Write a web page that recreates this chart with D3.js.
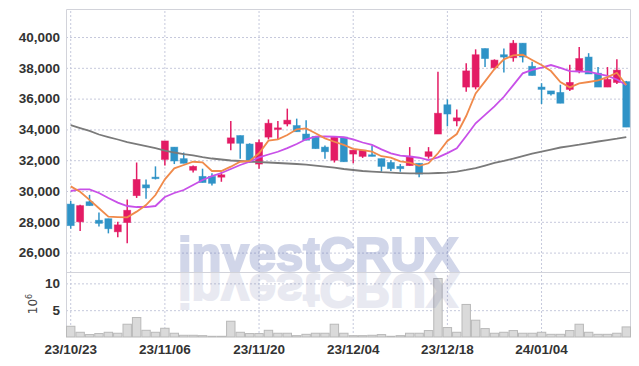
<!DOCTYPE html>
<html>
<head>
<meta charset="utf-8">
<script src="https://cdn.jsdelivr.net/npm/d3@7"></script>
<style>
  body { margin: 0; background: #fff; }
  svg { display: block; }
  .lbl text { font-family: "Liberation Sans", Arial, sans-serif; font-weight: bold; font-size: 13.5px; fill: #333; }
  .grid line { stroke: #c6c9dc; stroke-dasharray: 2,2; }
</style>
</head>
<body>
<svg width="639" height="366"></svg>
<script>
// trading days, yy/mm/dd
const dates = [
  "23/10/23","23/10/24","23/10/25","23/10/26","23/10/27","23/10/30","23/10/31",
  "23/11/01","23/11/02","23/11/03","23/11/06","23/11/07","23/11/08","23/11/09","23/11/10",
  "23/11/13","23/11/14","23/11/15","23/11/16","23/11/17","23/11/20","23/11/21","23/11/22",
  "23/11/23","23/11/24","23/11/27","23/11/28","23/11/29","23/11/30","23/12/01",
  "23/12/04","23/12/05","23/12/06","23/12/07","23/12/08","23/12/11","23/12/12","23/12/13",
  "23/12/14","23/12/15","23/12/18","23/12/19","23/12/20","23/12/21","23/12/22",
  "23/12/26","23/12/27","23/12/28","24/01/02","24/01/03","24/01/04","24/01/05",
  "24/01/08","24/01/09","24/01/10","24/01/11","24/01/12","24/01/15","24/01/16","24/01/17"
];
const dateTicks = ["23/10/23", "23/11/06", "23/11/20", "23/12/04", "23/12/18", "24/01/04"];
const priceTicks = [26000, 28000, 30000, 32000, 34000, 36000, 38000, 40000];
const volTicks = [5, 10];

const opens = [29150, 28000, 29300, 28100, 28200, 27350, 27950, 29700, 30400, 30900,
  32050, 32850, 32100, 31350, 30950, 30950, 30900, 33100, 33600, 33050,
  31750, 33500, 34000, 34350, 34250, 33700, 33550, 32850, 32000, 33500,
  32400, 32250, 32350, 32100, 31850, 31600, 31650, 31800, 32250, 33700,
  35600, 34550, 36750, 36750, 39250, 38000, 38850, 38650, 39600, 38100,
  36750, 36500, 36400, 36600, 37800, 38700, 37650, 36750, 37050, 37100];
const highs = [29350, 29100, 29750, 28600, 28200, 28000, 29450, 31850, 30750, 31600,
  33250, 32850, 32500, 31650, 31450, 31150, 31250, 34550, 33600, 33100,
  33350, 34650, 34550, 35350, 34700, 34600, 33550, 32950, 33500, 33500,
  32650, 32650, 32950, 32100, 32000, 31750, 32850, 31800, 32850, 37750,
  35950, 35300, 38300, 39200, 39250, 38550, 39250, 39800, 39600, 38400,
  37000, 36500, 36900, 38200, 39350, 38950, 38050, 38050, 38550, 37150];
const lows = [27550, 27400, 29050, 27700, 27250, 27000, 26600, 29550, 29500, 30750,
  31650, 31750, 31800, 31200, 30550, 30350, 30600, 32650, 32100, 31850,
  31450, 33350, 33350, 34200, 33850, 33300, 32750, 32100, 31850, 31900,
  31800, 32150, 32250, 31250, 31300, 31250, 31650, 30900, 32100, 33700,
  34200, 34200, 36450, 36600, 38050, 37850, 37700, 38400, 38350, 37500,
  35650, 36200, 35700, 36500, 37650, 37600, 36750, 36750, 36950, 34150];
const closes = [27750, 29050, 29050, 27900, 27550, 27800, 28750, 30750, 30200, 30800,
  33250, 31950, 31800, 31600, 30550, 30500, 31050, 33450, 33100, 31900,
  33150, 34400, 34100, 34600, 33850, 33300, 32750, 32550, 33500, 31900,
  32650, 32650, 32250, 31600, 31450, 31450, 32250, 31100, 32550, 35050,
  35000, 34750, 37800, 38850, 38600, 38500, 38700, 39600, 38700, 37500,
  36600, 36300, 35700, 37050, 38600, 37600, 36750, 37250, 37850, 34150];
// volume, millions of shares
const volumes = [2.0, 0.88, 0.45, 0.64, 0.88, 0.7, 2.38, 3.63, 1.25, 0.88,
  1.63, 0.7, 0.32, 0.32, 0.25, 0.13, 0.13, 2.94, 0.88, 0.64,
  0.64, 1.25, 0.7, 0.7, 0.25, 0.5, 0.7, 0.7, 2.38, 0.7,
  0.25, 0.25, 0.32, 0.45, 0.13, 0.25, 0.7, 0.7, 1.2, 10.9,
  1.76, 0.88, 6.07, 3.13, 1.57, 0.7, 0.88, 1.2, 0.7, 0.7,
  0.88, 0.5, 0.5, 1.2, 2.38, 0.88, 0.5, 0.5, 0.7, 1.88];
// moving averages
const maShort = [30300, 29950, 29420, 28880, 28330, 28310, 28290, 28660, 29090, 29740,
  30760, 31470, 31690, 31900, 31860, 31300, 31300, 31580, 31900, 31950,
  32450, 33270, 33360, 33640, 34010, 34070, 33750, 33420, 33200, 32990,
  32740, 32660, 32560, 32260, 32170, 31920, 31840, 31640, 31800, 32450,
  33250, 33700, 34870, 36340, 37120, 37920, 38550, 38810, 38850, 38510,
  38180, 37790, 37080, 36730, 36990, 37080, 37180, 37400, 37680, 36880];
const maMid = [30000, 30100, 30100, 29870, 29545, 29250, 29025, 28960, 28960, 29025,
  29610, 29870, 30065, 30390, 30715, 30970, 31170, 31430, 31690, 31900,
  32180, 32370, 32550, 32790, 33050, 33360, 33530, 33540, 33530, 33490,
  33350, 33150, 32990, 32700, 32450, 32300, 32240, 32160, 32010, 32180,
  32460, 32770, 33570, 34400, 34940, 35490, 36120, 36880, 37640, 37860,
  38010, 38180, 37990, 37790, 37760, 37750, 37600, 37470, 37240, 36880];
const maLong = [34285, 34090, 33900, 33670, 33505, 33345, 33180, 33050, 32920, 32790,
  32630, 32500, 32400, 32315, 32205, 32110, 32045, 31980, 31950, 31900,
  31880, 31850, 31820, 31785, 31755, 31710, 31655, 31590, 31515, 31430,
  31365, 31300, 31265, 31220, 31190, 31160, 31140, 31140, 31150, 31170,
  31200, 31265, 31365, 31490, 31655, 31820, 31950, 32110, 32270, 32435,
  32565, 32695, 32825, 32920, 33005, 33115, 33215, 33310, 33395, 33505];

const L = 66, R = 631, T = 9, M = 272, B = 337;

const svg = d3.select("svg");

const x = d3.scaleBand().domain(dates).range([L, R]);
const y = d3.scaleLinear().domain([24740, 41820]).range([M, T]);
const v = d3.scaleLinear().domain([0, 12.12]).range([B, M]);
const cx = (d) => x(d) + x.bandwidth() / 2;

// grid
svg.append("g").attr("class", "grid")
  .attr("transform", `translate(${L},0)`)
  .call(d3.axisLeft(y).tickValues(priceTicks).tickSize(-(R - L)).tickFormat(""))
  .call((g) => g.select(".domain").remove());
svg.append("g").attr("class", "grid")
  .attr("transform", `translate(${L},0)`)
  .call(d3.axisLeft(v).tickValues(volTicks).tickSize(-(R - L)).tickFormat(""))
  .call((g) => g.select(".domain").remove());
svg.append("g").attr("class", "grid")
  .attr("transform", `translate(0,${B})`)
  .call(d3.axisBottom(x).tickValues(dateTicks).tickSize(-(B - T)).tickFormat(""))
  .call((g) => g.select(".domain").remove());

// frame
const frame = svg.append("g").attr("stroke", "#d2d3da").attr("fill", "none");
frame.append("path").attr("d", `M${L + 0.5},${B}V${T + 0.5}H${R - 0.5}V${B}`);
frame.append("line").attr("x1", L).attr("x2", R).attr("y1", M + 0.5).attr("y2", M + 0.5);

// labels
svg.append("g").attr("class", "lbl")
  .attr("transform", `translate(${L},0)`)
  .call(d3.axisLeft(y).tickValues(priceTicks).tickSize(0).tickPadding(6).tickFormat(d3.format(",")))
  .call((g) => g.select(".domain").remove());
svg.append("g").attr("class", "lbl")
  .attr("transform", `translate(${L},0)`)
  .call(d3.axisLeft(v).tickValues(volTicks).tickSize(0).tickPadding(6))
  .call((g) => g.select(".domain").remove());
svg.append("g").attr("class", "lbl")
  .attr("transform", `translate(0,${B})`)
  .call(d3.axisBottom(x).tickValues(dateTicks).tickSize(0).tickPadding(7))
  .call((g) => g.select(".domain").remove());

const unit = svg.append("text")
  .attr("transform", "translate(37,304) rotate(-90)")
  .attr("text-anchor", "middle")
  .style("font-family", "DejaVu Sans, sans-serif")
  .style("font-size", "12px")
  .style("fill", "#444");
unit.append("tspan").text("10");
unit.append("tspan").attr("dy", -5).style("font-size", "8px").text("6");

// volume bars
svg.append("g")
  .selectAll("rect")
  .data(volumes)
  .join("rect")
  .attr("x", (d, i) => x(dates[i]) + 0.5)
  .attr("width", x.bandwidth() - 1)
  .attr("y", (d) => v(d))
  .attr("height", (d) => B - v(d))
  .attr("fill", "#dadada")
  .attr("stroke", "#b9b9b9")
  .attr("stroke-width", 1);

// watermark, with its mirror image under the separator
const wm = svg.append("g")
  .style("font-family", "Liberation Sans, Arial, sans-serif")
  .style("font-weight", "bold")
  .style("font-size", "49px");
wm.append("text").attr("x", 178).attr("y", M - 1)
  .attr("fill", "#4b5fab").attr("stroke", "#4b5fab").attr("stroke-width", 2.2)
  .attr("opacity", 0.25).text("investCRUX");
wm.append("text").attr("x", 178).attr("y", M - 1)
  .attr("transform", `translate(0,${2 * M + 1}) scale(1,-1)`)
  .attr("fill", "#4b5596").attr("stroke", "#4b5596").attr("stroke-width", 2.2)
  .attr("opacity", 0.12).text("investCRUX");

// candles
const up = "#e31b64", down = "#2f93c7";
const bw = 7;
const candles = svg.append("g")
  .selectAll("g")
  .data(dates)
  .join("g")
  .attr("stroke", (d, i) => (closes[i] >= opens[i] ? up : down))
  .attr("fill", (d, i) => (closes[i] >= opens[i] ? up : down));
candles.append("line")
  .attr("x1", (d) => cx(d))
  .attr("x2", (d) => cx(d))
  .attr("y1", (d, i) => y(highs[i]))
  .attr("y2", (d, i) => y(lows[i]))
  .attr("stroke-width", 1.5);
candles.append("rect")
  .attr("x", (d) => cx(d) - bw / 2)
  .attr("width", bw)
  .attr("y", (d, i) => y(Math.max(opens[i], closes[i])))
  .attr("height", (d, i) => Math.max(1.5, Math.abs(y(opens[i]) - y(closes[i]))))
  .attr("stroke-width", 0.8)
  .attr("stroke-opacity", 0.6);

// moving averages
const line = d3.line().x((d, i) => cx(dates[i])).y((d) => y(d));
const maSeries = [
  { values: maLong, color: "#7a7a7a" },
  { values: maMid, color: "#c850e8" },
  { values: maShort, color: "#f08a4b" },
];
svg.append("g")
  .selectAll("path")
  .data(maSeries)
  .join("path")
  .attr("d", (d) => line(d.values))
  .attr("fill", "none")
  .attr("stroke", (d) => d.color)
  .attr("stroke-width", 1.8);
</script>
</body>
</html>
